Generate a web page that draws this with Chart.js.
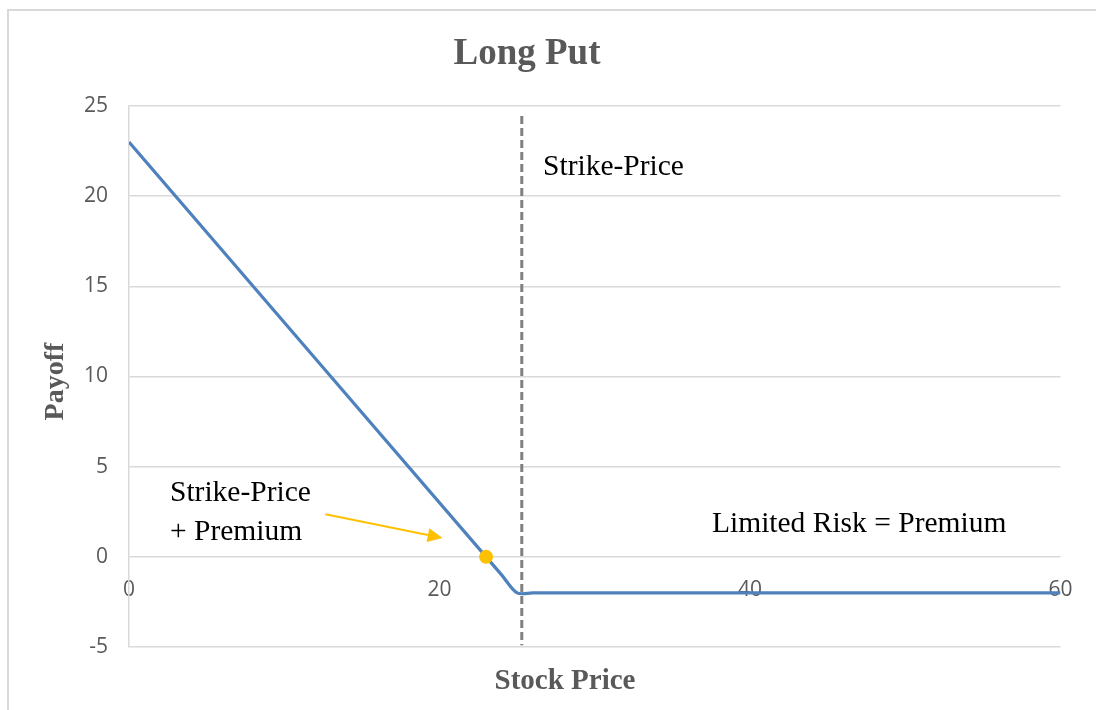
<!DOCTYPE html>
<html>
<head>
<meta charset="utf-8">
<title>Long Put</title>
<script src="https://cdn.jsdelivr.net/npm/chart.js@4.4.1/dist/chart.umd.min.js"></script>
<style>
  html, body { margin: 0; padding: 0; background: #ffffff; }
  #wrap { width: 1096px; height: 710px; }
</style>
</head>
<body>
<div id="wrap"><canvas id="chart" width="1096" height="710"></canvas></div>
<script>
// Payoff of a long put: strike 25, premium 2
const stockPrice = [0, 24, 25, 26, 60];
const payoff     = [23, -1, -2, -2, -2];

// Break-even point (strike - premium)
const breakEvenX = [23];
const breakEvenY = [0];

// Vertical dashed strike marker
const strikeX = [25.3, 25.3];
const strikeY = [24.45, -4.9];

// Axis ranges and tick steps
const xRange = [0, 60];
const yRange = [-5, 25];
const xStep = 20;
const yStep = 5;

const chartTitle = 'Long Put';
const xTitle = 'Stock Price';
const yTitle = 'Payoff';

const toPoints = (xs, ys) => xs.map((x, i) => ({ x: x, y: ys[i] }));

const GRID = '#d9d9d9';
const TEXT_GREY = '#595959';
const SERIF = '"Liberation Serif", "Times New Roman", serif';
const SANS = '"Open Sans", "Liberation Sans", sans-serif';

// Free-floating labels, anchored in data coordinates
const notes = [
  { text: 'Strike-Price', x: 26.67, y: 21.17 },
  { text: 'Limited Risk = Premium', x: 37.55, y: 1.39 },
  { text: 'Strike-Price', x: 2.64, y: 3.10 },
  { text: '+ Premium', x: 2.64, y: 0.94 }
];
// Arrow pointing at the break-even point
const arrow = { from: { x: 12.65, y: 2.36 }, to: { x: 20.2, y: 1.04 } };

const decor = {
  id: 'decor',
  beforeDraw(chart) {
    const ctx = chart.ctx;
    ctx.save();
    ctx.fillStyle = '#ffffff';
    ctx.fillRect(0, 0, chart.width, chart.height);
    ctx.strokeStyle = GRID;
    ctx.lineWidth = 2;
    ctx.beginPath();
    ctx.moveTo(8, chart.height);
    ctx.lineTo(8, 10);
    ctx.lineTo(chart.width, 10);
    ctx.stroke();
    ctx.restore();
  },
  afterDraw(chart) {
    const ctx = chart.ctx;
    const xs = chart.scales.x, ys = chart.scales.y;
    const area = chart.chartArea;
    ctx.save();

    // Title
    ctx.fillStyle = TEXT_GREY;
    ctx.font = 'bold 37px ' + SERIF;
    ctx.textAlign = 'center';
    ctx.textBaseline = 'alphabetic';
    ctx.fillText(chartTitle, 527, 64);

    // X axis title
    ctx.font = 'bold 29px ' + SERIF;
    ctx.fillText(xTitle, 565, 689);

    // Y axis title
    ctx.font = 'bold 28px ' + SERIF;
    ctx.save();
    ctx.translate(63, (area.top + area.bottom) / 2 + 5);
    ctx.rotate(-Math.PI / 2);
    ctx.fillText(yTitle, 0, 0);
    ctx.restore();

    // Notes
    ctx.fillStyle = '#000000';
    ctx.font = '29.5px ' + SERIF;
    ctx.textAlign = 'left';
    notes.forEach(n => {
      ctx.fillText(n.text, xs.getPixelForValue(n.x), ys.getPixelForValue(n.y));
    });

    // Arrow
    const x1 = xs.getPixelForValue(arrow.from.x), y1 = ys.getPixelForValue(arrow.from.y);
    const x2 = xs.getPixelForValue(arrow.to.x), y2 = ys.getPixelForValue(arrow.to.y);
    const ang = Math.atan2(y2 - y1, x2 - x1);
    const headLen = 15, headW = 7;
    const bx = x2 - headLen * Math.cos(ang), by = y2 - headLen * Math.sin(ang);
    ctx.strokeStyle = '#ffc000';
    ctx.fillStyle = '#ffc000';
    ctx.lineWidth = 2;
    ctx.beginPath();
    ctx.moveTo(x1, y1);
    ctx.lineTo(bx, by);
    ctx.stroke();
    ctx.beginPath();
    ctx.moveTo(x2, y2);
    ctx.lineTo(bx + headW * Math.sin(ang), by - headW * Math.cos(ang));
    ctx.lineTo(bx - headW * Math.sin(ang), by + headW * Math.cos(ang));
    ctx.closePath();
    ctx.fill();

    ctx.restore();
  }
};

new Chart(document.getElementById('chart'), {
  type: 'line',
  data: {
    datasets: [
      {
        label: 'Break-even',
        data: toPoints(breakEvenX, breakEvenY),
        showLine: false,
        pointRadius: 7,
        pointBackgroundColor: '#ffc000',
        pointBorderColor: '#ffc000',
        pointBorderWidth: 0,
        order: 0
      },
      {
        label: 'Strike',
        data: toPoints(strikeX, strikeY),
        borderColor: '#808080',
        borderWidth: 3,
        borderDash: [8, 4],
        pointRadius: 0,
        tension: 0,
        clip: false,
        order: 1
      },
      {
        label: 'Payoff',
        data: toPoints(stockPrice, payoff),
        borderColor: '#4f81bd',
        borderWidth: 3.2,
        pointRadius: 0,
        tension: 0.3,
        cubicInterpolationMode: 'default',
        order: 2
      }
    ]
  },
  options: {
    responsive: false,
    devicePixelRatio: 1,
    animation: false,
    events: [],
    layout: { padding: { left: 0, top: 106, right: 35.5, bottom: 63 } },
    plugins: {
      legend: { display: false },
      title: { display: false },
      tooltip: { enabled: false }
    },
    scales: {
      x: {
        type: 'linear',
        position: { y: 0 },
        min: xRange[0],
        max: xRange[1],
        grid: { display: false, drawTicks: false },
        border: { display: false },
        ticks: {
          stepSize: xStep,
          autoSkip: false,
          padding: 21,
          color: TEXT_GREY,
          font: { family: SANS, size: 21 }
        }
      },
      y: {
        type: 'linear',
        min: yRange[0],
        max: yRange[1],
        afterFit(scale) { scale.width = 129; },
        grid: { color: GRID, lineWidth: 1.5, drawTicks: false },
        border: { display: true, color: GRID, width: 1.5 },
        ticks: {
          stepSize: yStep,
          autoSkip: false,
          padding: 21,
          color: TEXT_GREY,
          font: { family: SANS, size: 21 }
        }
      }
    }
  },
  plugins: [decor]
});
</script>
</body>
</html>
